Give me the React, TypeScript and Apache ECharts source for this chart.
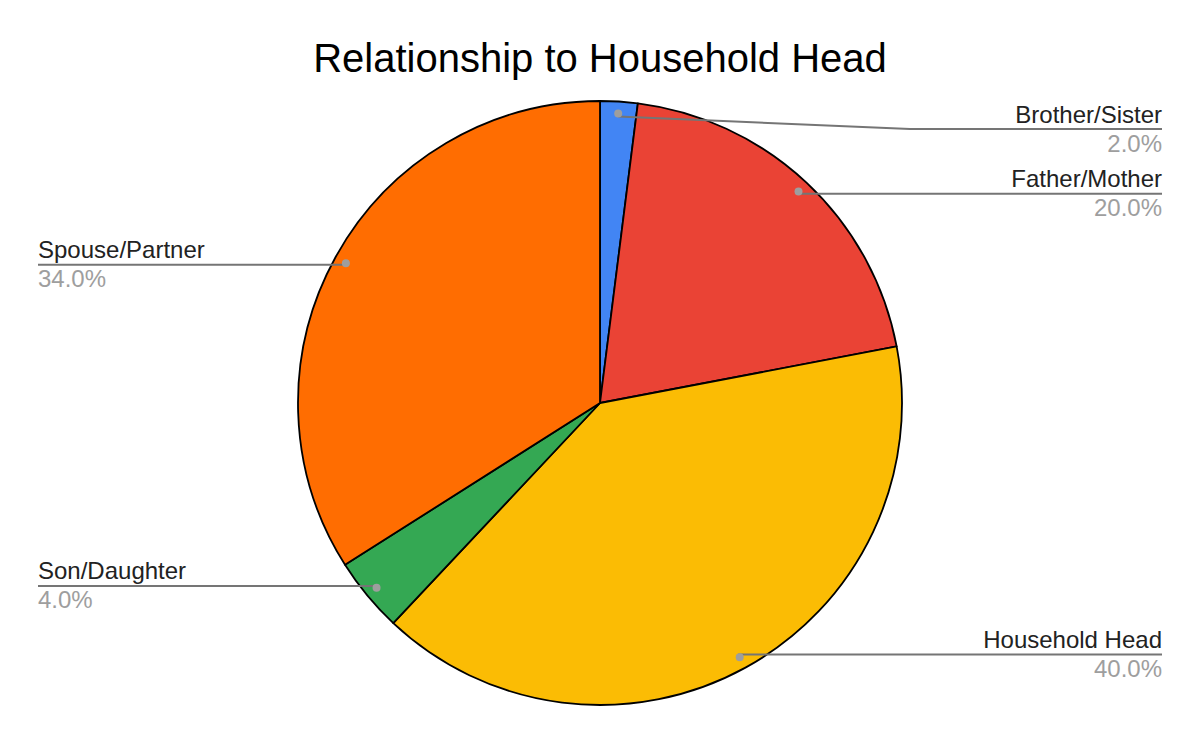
import React, { useEffect, useRef } from "react";
import * as echarts from "echarts";

const chartTitle = "Relationship to Household Head";
const categories = ["Brother/Sister", "Father/Mother", "Household Head", "Son/Daughter", "Spouse/Partner"];
const values = [2, 20, 40, 4, 34];
const colors = ["#4285F4", "#EA4335", "#FBBC04", "#34A853", "#FF6D01"];

const CX = 600;
const CY = 403;
const R = 302;
const DOT_R = 287;
const FONT = "'Liberation Sans', Arial, sans-serif";

const total = values.reduce((a, b) => a + b, 0);
function midAngle(i: number) {
  let cum = 0;
  for (let k = 0; k < i; k++) cum += values[k];
  return (2 * Math.PI * (cum + values[i] / 2)) / total;
}
function dotPoint(i: number) {
  const a = midAngle(i);
  return [CX + DOT_R * Math.sin(a), CY - DOT_R * Math.cos(a)];
}

export default function App() {
  const ref = useRef<HTMLDivElement>(null);
  useEffect(() => {
    if (!ref.current) return;
    const chart = echarts.init(ref.current, undefined, { renderer: "svg" });
    const data = values.map((v, i) => ({ value: v, name: categories[i], itemStyle: { color: colors[i] } }));
    const ghost = values.map((v, i) => ({ value: v, name: categories[i] }));
    chart.setOption({
      animation: false,
      backgroundColor: "#ffffff",
      title: {
        text: chartTitle,
        left: "center",
        top: 31,
        textStyle: { fontFamily: FONT, fontSize: 40, fontWeight: "normal", color: "#000000", lineHeight: 44 },
      },
      series: [
        {
          type: "pie",
          center: [CX, CY],
          radius: R,
          startAngle: 90,
          clockwise: true,
          silent: true,
          data,
          itemStyle: { borderColor: "#000000", borderWidth: 1.8 },
          label: { show: false },
          labelLine: { show: false },
          emphasis: { disabled: true },
          z: 2,
        },
        {
          type: "pie",
          center: [CX, CY],
          radius: [DOT_R - 1, DOT_R + 1],
          startAngle: 90,
          clockwise: true,
          avoidLabelOverlap: false,
          silent: true,
          data: ghost,
          itemStyle: { color: "rgba(0,0,0,0)", borderWidth: 0 },
          label: {
            show: true,
            position: "outside",
            formatter: (p: any) => `{n|${p.name}}\n{p|${p.percent.toFixed(1)}%}`,
            rich: {
              n: { fontFamily: FONT, fontSize: 24, color: "#222222", lineHeight: 30 },
              p: { fontFamily: FONT, fontSize: 24, color: "#9e9e9e", lineHeight: 28 },
            },
          },
          labelLine: { show: true, length: 5, length2: 5, lineStyle: { color: "#757575", width: 2 } },
          labelLayout: (p: any) => {
            const i = p.dataIndex;
            const [dx, dy] = dotPoint(i);
            const right = dx >= CX;
            const lineY = Math.max(dy, 129);
            const edgeX = right ? 1162 : 38;
            const bendX = lineY === dy ? (dx + edgeX) / 2 : right ? 910 : 290;
            return {
              x: edgeX,
              y: lineY - 30,
              align: right ? "right" : "left",
              verticalAlign: "top",
              labelLinePoints: [
                [dx, dy],
                [bendX, lineY],
                [edgeX, lineY],
              ],
            };
          },
          emphasis: { disabled: true },
          z: 4,
        },
        {
          type: "pie",
          center: [CX, CY],
          radius: [DOT_R - 1, DOT_R + 1],
          startAngle: 90,
          clockwise: true,
          silent: true,
          data: ghost,
          itemStyle: { color: "rgba(0,0,0,0)", borderWidth: 0 },
          label: {
            show: true,
            position: "inside",
            formatter: " ",
            fontSize: 1,
            width: 8,
            height: 8,
            padding: 0,
            borderRadius: 4,
            backgroundColor: "#9e9e9e",
          },
          labelLine: { show: false },
          emphasis: { disabled: true },
          z: 6,
        },
      ],
    });
    return () => chart.dispose();
  }, []);
  return (
    <div
      ref={ref}
      style={{ position: "absolute", left: 0, top: 0, width: 1200, height: 742, background: "#ffffff" }}
    />
  );
}
